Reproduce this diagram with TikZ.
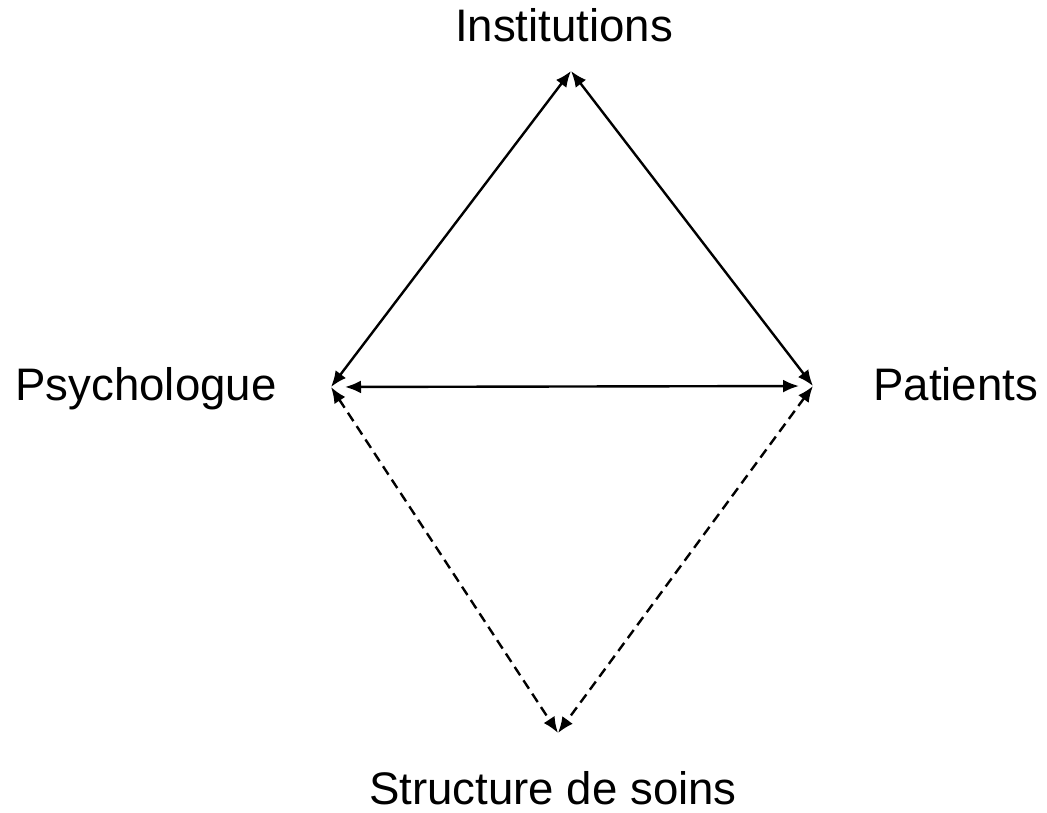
\documentclass[tikz,border=0pt]{standalone}
\usepackage{fontspec}
\setmainfont{Liberation Sans}
\usetikzlibrary{arrows.meta}

\begin{document}
\begin{tikzpicture} [x=0.5pt, y=-0.5pt,
  lbl/.style={font=\fontsize{22.8}{27}\selectfont, inner sep=0pt, anchor=base},
  headtip/.tip={Latex[length=8pt,width=6.5pt]}
]
\useasboundingbox (0,0) rectangle (1047,812);
% corners of the diamond
\coordinate (inst) at (571,71);
\coordinate (psy)  at (331,387);
\coordinate (pat)  at (813,386);
\coordinate (soin) at (558,733);
% labels
\node[lbl] (tinst) at (564,42)  {Institutions};
\node[lbl] (tpsy)  at (146,400) {Psychologue};
\node[lbl, anchor=base west] (tpat) at (873,400) {Patients};
\node[lbl] (tsoin) at (553,804) {Structure de soins};
%
\path[headtip-headtip,line width=1.2pt]
(psy) edge (inst)
(pat) edge (inst)
(psy) edge[shorten <=7pt, shorten >=7pt] (pat)
;
\path[headtip-headtip,line width=1.2pt,dash pattern=on 5pt off 3pt]
(psy) edge (soin)
(pat) edge (soin)
;
\end{tikzpicture}
\end{document}
